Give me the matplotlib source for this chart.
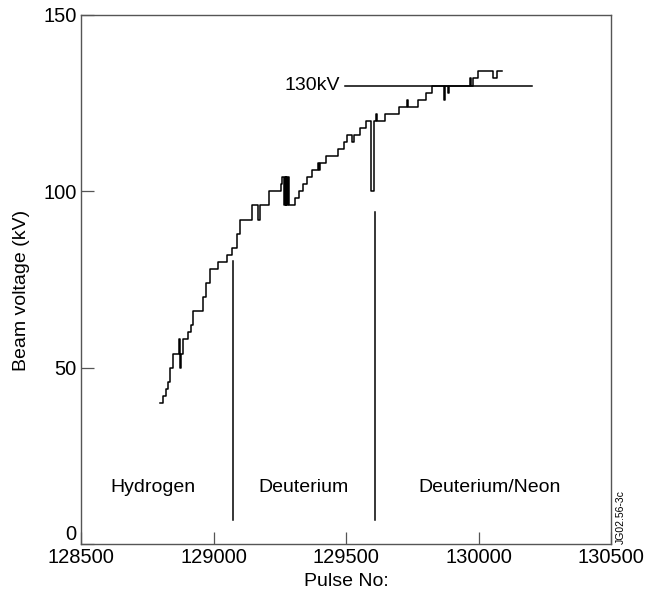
import matplotlib
matplotlib.use("Agg")
import matplotlib.pyplot as plt

plt.rcParams["font.family"] = ["Liberation Sans", "DejaVu Sans"]

# staircase: pulse number where each level starts, beam voltage (kV)
pulse = [128799, 128808, 128820, 128829, 128836, 128847, 128868, 128872, 128875, 128878,
         128886, 128905, 128914, 128921, 128962, 128970, 128987, 129016, 129050, 129070,
         129088, 129100, 129144, 129167, 129175, 129211, 129254, 129258, 129266, 129269,
         129272, 129275, 129278, 129281, 129284, 129308, 129324, 129339, 129354, 129373,
         129393, 129397, 129403, 129425, 129468, 129492, 129505, 129521, 129530, 129553,
         129574, 129593, 129605, 129614, 129617, 129647, 129700, 129730, 129734, 129773,
         129801, 129823, 129868, 129874, 129884, 129888, 129968, 129972, 129978, 129999,
         130056, 130068, 130088]
kv = [40, 42, 44, 46, 50, 54, 58, 54, 50, 54,
      58, 60, 62, 66, 70, 74, 78, 80, 82, 84,
      88, 92, 96, 92, 96, 100, 102, 104, 96, 104,
      96, 104, 96, 104, 96, 98, 100, 102, 104, 106,
      108, 106, 108, 110, 112, 114, 116, 114, 116, 118,
      120, 100, 120, 122, 120, 122, 124, 126, 124, 126,
      128, 130, 126, 130, 128, 130, 132, 130, 132, 134,
      132, 134, 134]

# gas regime dividers and labels
divider_x = [129072, 129608]
divider_top = [80.3, 94.2]
divider_bottom = 6.8
regimes = ["Hydrogen", "Deuterium", "Deuterium/Neon"]
regime_x = [128770, 129338, 130040]
regime_y = 14.7

# 130 kV reference line
ref_kv = 130
ref_x = [129496, 130201]

fig = plt.figure(figsize=(6.6, 5.99), dpi=100)
ax = fig.add_axes([81 / 660, 1 - 544 / 599, 530 / 660, 529 / 599])

ax.plot(pulse, kv, drawstyle="steps-post", color="black", lw=1.1)
for x, top in zip(divider_x, divider_top):
    ax.plot([x, x], [divider_bottom, top], color="black", lw=1.1)
ax.plot(ref_x, [ref_kv, ref_kv], color="black", lw=1.1)
ax.text(ref_x[0] - 20, ref_kv, "130kV", ha="right", va="center", fontsize=14)

for name, x in zip(regimes, regime_x):
    ax.text(x, regime_y, name, ha="center", va="baseline", fontsize=14)

ax.set_xlim(128500, 130500)
ax.set_ylim(0, 150)
ax.set_xticks([128500, 129000, 129500, 130000, 130500])
ax.set_yticks([0, 50, 100, 150])
ax.tick_params(direction="in", length=9, width=0.9, color="#555555",
               labelsize=14.5, pad=3, top=False, right=False)
ax.get_yticklabels()[0].set_va("bottom")
for s in ax.spines.values():
    s.set_color("#555555")
    s.set_linewidth(1.0)

fig.text(22 / 660, 1 - 290 / 599, "Beam voltage (kV)", rotation=90,
         ha="center", va="center", fontsize=14)
fig.text(346 / 660, 1 - 581 / 599, "Pulse No:", ha="center", va="center", fontsize=14)
fig.text(621 / 660, 1 - 544 / 599, "JG02.56-3c", rotation=90,
         ha="center", va="bottom", fontsize=7.5)

fig.savefig("out.png", dpi=100)
